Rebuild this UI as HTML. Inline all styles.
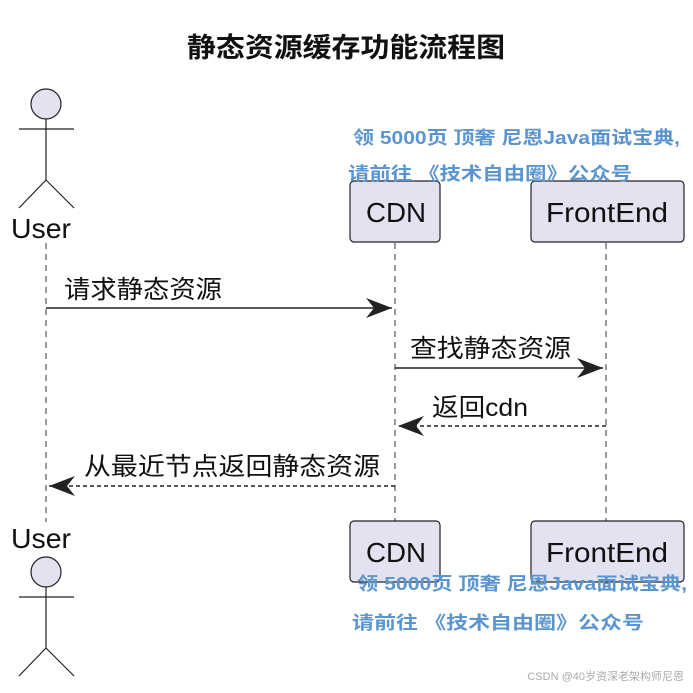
<!DOCTYPE html>
<html><head><meta charset="utf-8"><style>
body{margin:0;background:#fff;}
svg text{font-family:"Liberation Sans","Noto Sans CJK SC",sans-serif;}
</style></head><body>
<svg width="693" height="688" xmlns="http://www.w3.org/2000/svg">
<defs>
<marker id="a" markerWidth="28" markerHeight="20" refX="26" refY="10" orient="auto" markerUnits="userSpaceOnUse">
<path d="M0,0 L26,10 L0,20 L8,10 Z" fill="#222"/></marker>
</defs>
<text x="187" y="57" font-size="27" font-weight="bold" textLength="318" lengthAdjust="spacingAndGlyphs" fill="#111">静态资源缓存功能流程图</text>
<g stroke="#333" stroke-width="1" stroke-dasharray="6,5">
<line x1="46" y1="243" x2="46" y2="522"/>
<line x1="395" y1="243" x2="395" y2="522"/>
<line x1="606" y1="243" x2="606" y2="522"/>
</g>
<g stroke="#222" stroke-width="1.2" fill="none">
<circle cx="46" cy="104" r="15" fill="#e2e2f0"/>
<line x1="46" y1="119" x2="46" y2="180"/>
<line x1="19" y1="129" x2="74" y2="129"/>
<line x1="46" y1="180" x2="19" y2="208"/>
<line x1="46" y1="180" x2="74" y2="208"/>
</g>
<text x="11" y="238" font-size="28" textLength="60" lengthAdjust="spacingAndGlyphs" fill="#111">User</text>
<text x="11" y="548" font-size="28" textLength="60" lengthAdjust="spacingAndGlyphs" fill="#111">User</text>
<g stroke="#222" stroke-width="1.2" fill="none">
<circle cx="46" cy="572" r="15" fill="#e2e2f0"/>
<line x1="46" y1="587" x2="46" y2="648"/>
<line x1="19" y1="597" x2="74" y2="597"/>
<line x1="46" y1="648" x2="19" y2="676"/>
<line x1="46" y1="648" x2="74" y2="676"/>
</g>
<g fill="#e2e2f0" stroke="#222" stroke-width="1.2">
<rect x="350" y="181" width="90" height="61" rx="4"/>
<rect x="531" y="181" width="153" height="61" rx="4"/>
<rect x="350" y="521" width="90" height="61" rx="4"/>
<rect x="531" y="521" width="153" height="61" rx="4"/>
</g>
<g font-size="28" fill="#111" lengthAdjust="spacingAndGlyphs">
<text x="366" y="222" textLength="60" lengthAdjust="spacingAndGlyphs">CDN</text>
<text x="546" y="222" textLength="122" lengthAdjust="spacingAndGlyphs">FrontEnd</text>
<text x="366" y="562" textLength="60" lengthAdjust="spacingAndGlyphs">CDN</text>
<text x="546" y="562" textLength="122" lengthAdjust="spacingAndGlyphs">FrontEnd</text>
</g>
<g fill="#5b95cf" font-size="18" font-weight="bold">
<text x="353" y="144" textLength="327" lengthAdjust="spacingAndGlyphs">领 5000页 顶奢 尼恩Java面试宝典,</text>
<text x="348" y="180" textLength="284" lengthAdjust="spacingAndGlyphs">请前往 《技术自由圈》公众号</text>
<text x="357" y="590" textLength="330" lengthAdjust="spacingAndGlyphs">领 5000页 顶奢 尼恩Java面试宝典,</text>
<text x="352" y="629" textLength="292" lengthAdjust="spacingAndGlyphs">请前往 《技术自由圈》公众号</text>
</g>
<text x="684" y="680" font-size="11" fill="#aaa" text-anchor="end">CSDN @40岁资深老架构师尼恩</text>
<g stroke="#222" stroke-width="1.5">
<line x1="46" y1="308" x2="392" y2="308" marker-end="url(#a)"/>
<line x1="395" y1="368" x2="603" y2="368" marker-end="url(#a)"/>
<line x1="606" y1="426" x2="398" y2="426" stroke-dasharray="4,3" marker-end="url(#a)"/>
<line x1="395" y1="486" x2="49" y2="486" stroke-dasharray="4,3" marker-end="url(#a)"/>
</g>
<g font-size="25" fill="#111">
<text x="64" y="298" textLength="158" lengthAdjust="spacingAndGlyphs">请求静态资源</text>
<text x="410" y="357" textLength="161" lengthAdjust="spacingAndGlyphs">查找静态资源</text>
<text x="432" y="416" textLength="96" lengthAdjust="spacingAndGlyphs">返回cdn</text>
<text x="84" y="475" textLength="296" lengthAdjust="spacingAndGlyphs">从最近节点返回静态资源</text>
</g>
</svg>
</body></html>
